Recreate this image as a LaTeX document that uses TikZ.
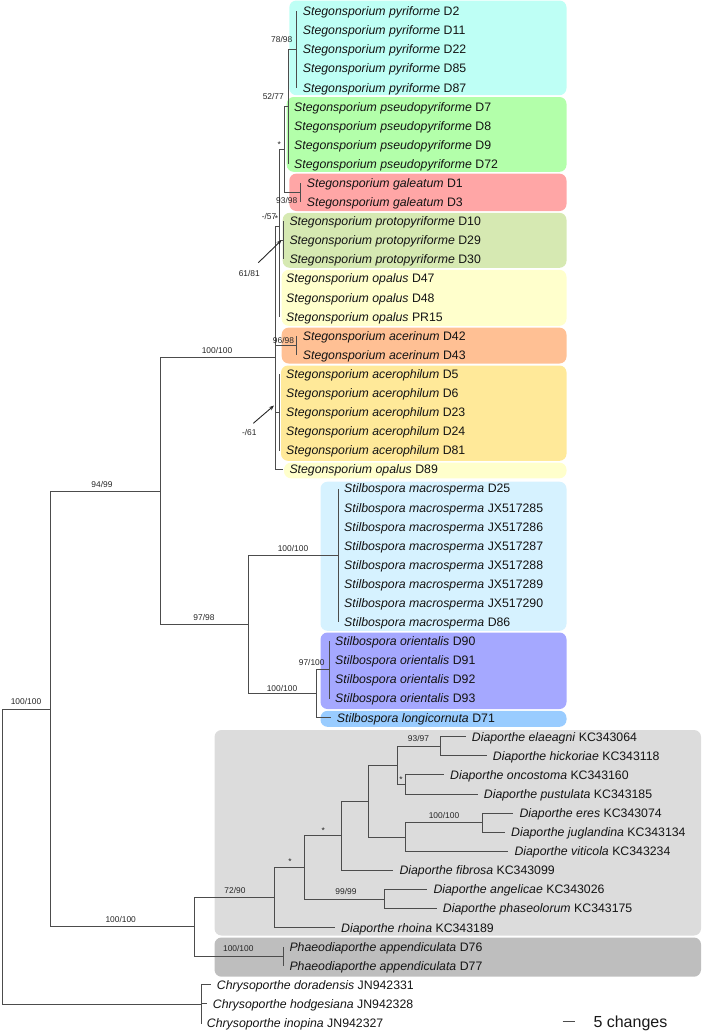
\documentclass[tikz,border=0pt]{standalone}
\usepackage{fontspec}
\setmainfont{Liberation Sans}
\usepackage{xcolor}
\usetikzlibrary{arrows.meta}

\definecolor{cyanclade}{RGB}{190,255,245}
\definecolor{greenclade}{RGB}{179,255,170}
\definecolor{redclade}{RGB}{255,166,166}
\definecolor{oliveclade}{RGB}{214,233,178}
\definecolor{creamclade}{RGB}{255,255,204}
\definecolor{orangeclade}{RGB}{255,192,148}
\definecolor{goldclade}{RGB}{255,233,153}
\definecolor{paleblueclade}{RGB}{214,242,255}
\definecolor{violetclade}{RGB}{165,168,255}
\definecolor{skyclade}{RGB}{153,204,255}
\definecolor{greyclade}{RGB}{220,220,220}
\definecolor{darkgreyclade}{RGB}{190,190,190}

% y of a taxon row
\newcommand{\ry}[1]{11.3+19.09*#1}

\begin{document}
\begin{tikzpicture}[
  x=1pt, y=-1pt,
  taxon/.style={anchor=west, inner xsep=6pt, inner ysep=0pt, text height=8.8pt, text depth=0pt, font=\fontsize{12.3}{14}\selectfont, text=black!92},
  support/.style={inner sep=0pt, font=\fontsize{8.4}{9}\selectfont, text=black!85},
  branch/.style={draw=black!70, line width=1pt},
  pointer/.style={-{Stealth[length=5pt, width=4pt]}, black!85, line width=0.9pt},
  clade/.style={rounded corners=7pt},
]
\useasboundingbox (0,0) rectangle (702,1031);

% Clade boxes
\fill[clade, cyanclade] (289.3,0.5) rectangle (566.5,95.2);
\fill[clade, greenclade] (286.7,97) rectangle (566.5,171.8);
\fill[clade, redclade] (289.3,173.6) rectangle (566.5,211);
\fill[clade, oliveclade] (282.7,212.8) rectangle (566.5,267.8);
\fill[clade, creamclade] (281.7,269.8) rectangle (566.5,325.8);
\fill[clade, orangeclade] (281.7,327.6) rectangle (566.5,363.5);
\fill[clade, goldclade] (281,365.5) rectangle (566.5,460.8);
\fill[clade, creamclade] (284,462.6) rectangle (566.5,478.3);
\fill[clade, paleblueclade] (320.5,481.7) rectangle (566.5,630.8);
\fill[clade, violetclade] (320.5,632.5) rectangle (566.5,709);
\fill[clade, skyclade] (320.5,710.8) rectangle (566.5,726.8);
\fill[clade, greyclade] (214.5,730) rectangle (701,935.5);
\fill[clade, darkgreyclade] (214.5,937.5) rectangle (701,976.7);

% Stegonsporium
\node[taxon] (pyrD2) at (296.7,\ry{0}) {\textit{Stegonsporium pyriforme} D2};
\node[taxon] (pyrD11) at (296.7,\ry{1}) {\textit{Stegonsporium pyriforme} D11};
\node[taxon] (pyrD22) at (296.7,\ry{2}) {\textit{Stegonsporium pyriforme} D22};
\node[taxon] (pyrD85) at (296.7,\ry{3}) {\textit{Stegonsporium pyriforme} D85};
\node[taxon] (pyrD87) at (296.7,\ry{4}) {\textit{Stegonsporium pyriforme} D87};
\node[taxon] (pseD7) at (288,\ry{5}) {\textit{Stegonsporium pseudopyriforme} D7};
\node[taxon] (pseD8) at (288,\ry{6}) {\textit{Stegonsporium pseudopyriforme} D8};
\node[taxon] (pseD9) at (288,\ry{7}) {\textit{Stegonsporium pseudopyriforme} D9};
\node[taxon] (pseD72) at (288,\ry{8}) {\textit{Stegonsporium pseudopyriforme} D72};
\node[taxon] (galD1) at (300.7,\ry{9}) {\textit{Stegonsporium galeatum} D1};
\node[taxon] (galD3) at (300.7,\ry{10}) {\textit{Stegonsporium galeatum} D3};
\node[taxon] (proD10) at (283.3,\ry{11}) {\textit{Stegonsporium protopyriforme} D10};
\node[taxon] (proD29) at (283.3,\ry{12}) {\textit{Stegonsporium protopyriforme} D29};
\node[taxon] (proD30) at (283.3,\ry{13}) {\textit{Stegonsporium protopyriforme} D30};
\node[taxon] (opaD47) at (280,\ry{14}) {\textit{Stegonsporium opalus} D47};
\node[taxon] (opaD48) at (280,\ry{15}) {\textit{Stegonsporium opalus} D48};
\node[taxon] (opaPR15) at (280,\ry{16}) {\textit{Stegonsporium opalus} PR15};
\node[taxon] (acnD42) at (296.7,\ry{17}) {\textit{Stegonsporium acerinum} D42};
\node[taxon] (acnD43) at (296.7,\ry{18}) {\textit{Stegonsporium acerinum} D43};
\node[taxon] (acpD5) at (280,\ry{19}) {\textit{Stegonsporium acerophilum} D5};
\node[taxon] (acpD6) at (280,\ry{20}) {\textit{Stegonsporium acerophilum} D6};
\node[taxon] (acpD23) at (280,\ry{21}) {\textit{Stegonsporium acerophilum} D23};
\node[taxon] (acpD24) at (280,\ry{22}) {\textit{Stegonsporium acerophilum} D24};
\node[taxon] (acpD81) at (280,\ry{23}) {\textit{Stegonsporium acerophilum} D81};
\node[taxon] (opaD89) at (283.3,\ry{24}) {\textit{Stegonsporium opalus} D89};

% Stilbospora
\node[taxon] (macD25) at (338,\ry{25}) {\textit{Stilbospora macrosperma} D25};
\node[taxon] (macJX285) at (338,\ry{26}) {\textit{Stilbospora macrosperma} JX517285};
\node[taxon] (macJX286) at (338,\ry{27}) {\textit{Stilbospora macrosperma} JX517286};
\node[taxon] (macJX287) at (338,\ry{28}) {\textit{Stilbospora macrosperma} JX517287};
\node[taxon] (macJX288) at (338,\ry{29}) {\textit{Stilbospora macrosperma} JX517288};
\node[taxon] (macJX289) at (338,\ry{30}) {\textit{Stilbospora macrosperma} JX517289};
\node[taxon] (macJX290) at (338,\ry{31}) {\textit{Stilbospora macrosperma} JX517290};
\node[taxon] (macD86) at (338,\ry{32}) {\textit{Stilbospora macrosperma} D86};
\node[taxon] (oriD90) at (329,\ry{33}) {\textit{Stilbospora orientalis} D90};
\node[taxon] (oriD91) at (329,\ry{34}) {\textit{Stilbospora orientalis} D91};
\node[taxon] (oriD92) at (329,\ry{35}) {\textit{Stilbospora orientalis} D92};
\node[taxon] (oriD93) at (329,\ry{36}) {\textit{Stilbospora orientalis} D93};
\node[taxon] (lonD71) at (330.7,\ry{37}) {\textit{Stilbospora longicornuta} D71};

% Diaporthe and outgroups
\node[taxon] (ela) at (465.7,\ry{38}) {\textit{Diaporthe elaeagni} KC343064};
\node[taxon] (hic) at (486.7,\ry{39}) {\textit{Diaporthe hickoriae} KC343118};
\node[taxon] (onc) at (444,\ry{40}) {\textit{Diaporthe oncostoma} KC343160};
\node[taxon] (pus) at (477.7,\ry{41}) {\textit{Diaporthe pustulata} KC343185};
\node[taxon] (ere) at (513.3,\ry{42}) {\textit{Diaporthe eres} KC343074};
\node[taxon] (jug) at (505,\ry{43}) {\textit{Diaporthe juglandina} KC343134};
\node[taxon] (vit) at (508.3,\ry{44}) {\textit{Diaporthe viticola} KC343234};
\node[taxon] (fib) at (393.3,\ry{45}) {\textit{Diaporthe fibrosa} KC343099};
\node[taxon] (ang) at (427.3,\ry{46}) {\textit{Diaporthe angelicae} KC343026};
\node[taxon] (phs) at (436.7,\ry{47}) {\textit{Diaporthe phaseolorum} KC343175};
\node[taxon] (rho) at (335,\ry{48}) {\textit{Diaporthe rhoina} KC343189};
\node[taxon] (appD76) at (283.3,\ry{49}) {\textit{Phaeodiaporthe appendiculata} D76};
\node[taxon] (appD77) at (283.3,\ry{50}) {\textit{Phaeodiaporthe appendiculata} D77};
\node[taxon] (dor) at (210.7,\ry{51}) {\textit{Chrysoporthe doradensis} JN942331};
\node[taxon] (hod) at (206.7,\ry{52}) {\textit{Chrysoporthe hodgesiana} JN942328};
\node[taxon] (ino) at (200.7,\ry{53}) {\textit{Chrysoporthe inopina} JN942327};

% Internal nodes
\coordinate (root) at (2,856.5);
\coordinate (ingroup) at (50,709);
\coordinate (stegstil) at (160,491.2);
\coordinate (steg) at (275.5,357.7);
\coordinate (stegA) at (279.3,226.7);
\coordinate (stegB) at (284.3,149.3);
\coordinate (pyrpse) at (288,106.7);
\coordinate (pyr) at (296.7,49.5);
\coordinate (gal) at (300.7,192.6);
\coordinate (pro) at (283.3,240.4);
\coordinate (acn) at (296.7,345.4);
\coordinate (acp) at (279.3,412.2);
\coordinate (stil) at (248,624.6);
\coordinate (mac) at (338,555.4);
\coordinate (orilon) at (316.7,693.8);
\coordinate (ori) at (329,669.9);
\coordinate (diapha) at (194.3,926.9);
\coordinate (dia) at (274.3,897.5);
\coordinate (diaG) at (304,867.4);
\coordinate (diaE) at (341.7,835.8);
\coordinate (diaB) at (368.3,801.2);
\coordinate (diaA) at (397,765.35);
\coordinate (elahic) at (440,746.25);
\coordinate (oncpus) at (405.3,784.45);
\coordinate (diaC) at (405.7,837);
\coordinate (erejug) at (482.3,822.65);
\coordinate (angphs) at (384.3,899);
\coordinate (app) at (283.3,956.25);
\coordinate (chr) at (201,1004);

% Branches
\draw[branch] (root) |- (ingroup);
\draw[branch] (root) |- (chr);
\draw[branch] (ingroup) |- (stegstil);
\draw[branch] (ingroup) |- (diapha);
\draw[branch] (stegstil) |- (steg);
\draw[branch] (stegstil) |- (stil);

\draw[branch] (steg) |- (stegA);
\draw[branch] (steg) |- (acn);
\draw[branch] (steg) |- (acp);
\draw[branch] (steg) |- (opaD89.west);
\draw[branch] (stegA) |- (stegB);
\draw[branch] (stegA) |- (pro);
\draw[branch] (stegA) |- (opaD47.west);
\draw[branch] (stegA) |- (opaD48.west);
\draw[branch] (stegA) |- (opaPR15.west);
\draw[branch] (stegB) |- (pyrpse);
\draw[branch] (stegB) |- (gal);
\draw[branch] (pyrpse) |- (pyr);
\draw[branch] (pyrpse) |- (pseD7.west);
\draw[branch] (pyrpse) |- (pseD72.west);
\draw[branch] (pyr) |- (pyrD2.west);
\draw[branch] (pyr) |- (pyrD87.west);
\draw[branch] (gal) |- (galD1.west);
\draw[branch] (gal) |- (galD3.west);
\draw[branch] (pro) |- (proD10.west);
\draw[branch] (pro) |- (proD30.west);
\draw[branch] (acn) |- (acnD42.west);
\draw[branch] (acn) |- (acnD43.west);
\draw[branch] (acp) |- (acpD5.west);
\draw[branch] (acp) |- (acpD81.west);

\draw[branch] (stil) |- (mac);
\draw[branch] (stil) |- (orilon);
\draw[branch] (mac) |- (macD25.west);
\draw[branch] (mac) |- (macD86.west);
\draw[branch] (orilon) |- (ori);
\draw[branch] (orilon) |- (lonD71.west);
\draw[branch] (ori) |- (oriD90.west);
\draw[branch] (ori) |- (oriD93.west);

\draw[branch] (diapha) |- (dia);
\draw[branch] (diapha) |- (app);
\draw[branch] (app) |- (appD76.west);
\draw[branch] (app) |- (appD77.west);
\draw[branch] (dia) |- (diaG);
\draw[branch] (dia) |- (rho.west);
\draw[branch] (diaG) |- (diaE);
\draw[branch] (diaG) |- (angphs);
\draw[branch] (angphs) |- (ang.west);
\draw[branch] (angphs) |- (phs.west);
\draw[branch] (diaE) |- (diaB);
\draw[branch] (diaE) |- (fib.west);
\draw[branch] (diaB) |- (diaA);
\draw[branch] (diaB) |- (diaC);
\draw[branch] (diaA) |- (elahic);
\draw[branch] (diaA) |- (oncpus);
\draw[branch] (elahic) |- (ela.west);
\draw[branch] (elahic) |- (hic.west);
\draw[branch] (oncpus) |- (onc.west);
\draw[branch] (oncpus) |- (pus.west);
\draw[branch] (diaC) |- (erejug);
\draw[branch] (diaC) |- (vit.west);
\draw[branch] (erejug) |- (ere.west);
\draw[branch] (erejug) |- (jug.west);

\draw[branch] (chr) |- (dor.west);
\draw[branch] (chr) |- (hod.west);
\draw[branch] (chr) |- (ino.west);

% Support values
\node[support] (s7898) at (281.7,39.3) {78/98};
\node[support] (s5277) at (273.3,96.7) {52/77};
\node[support] (sstarB) at (279.3,145) {*};
\node[support] (s9398) at (286.7,200) {93/98};
\node[support] (s57) at (269,216.5) {-/57};
\node[support] (sstarA) at (276.5,219) {*};
\node[support] (s6181) at (249.3,273.3) {61/81};
\node[support] (s9698) at (283.5,340) {96/98};
\node[support] (s61) at (249.3,432.7) {-/61};
\node[support] (ssteg) at (217,350.5) {100/100};
\node[support] (s9499) at (102,484) {94/99};
\node[support] (s9798) at (204,617.5) {97/98};
\node[support] (smac) at (293,548.3) {100/100};
\node[support] (s97100) at (311.7,662.7) {97/100};
\node[support] (sorilon) at (282,688) {100/100};
\node[support] (sroot) at (26,701.5) {100/100};
\node[support] (sdiapha) at (120.7,919) {100/100};
\node[support] (s7290) at (235,890) {72/90};
\node[support] (sapp) at (238.3,948.5) {100/100};
\node[support] (sstarG) at (290,862) {*};
\node[support] (sstarE) at (323.3,830.5) {*};
\node[support] (s9999) at (346,891.5) {99/99};
\node[support] (serejug) at (444,815) {100/100};
\node[support] (s9397) at (418.5,738.7) {93/97};
\node[support] (sstarO) at (401,780) {*};

% Pointers
\coordinate (protail) at (258.3,262.7);
\coordinate (prohead) at (281.5,240.2);
\coordinate (acptail) at (253.3,423.3);
\coordinate (acphead) at (274,405.5);
\draw[pointer] (protail) -- (prohead);
\draw[pointer] (acptail) -- (acphead);

% Scale bar
\coordinate (barL) at (562.7,1021.8);
\coordinate (barR) at (575,1021.8);
\draw[branch] (barL) -- (barR);
\node[anchor=west, inner sep=0pt, text height=11.4pt, text depth=0pt, font=\fontsize{16}{18}\selectfont, text=black!90] (scale) at (593.3,1021.8) {5 changes};

\end{tikzpicture}
\end{document}
